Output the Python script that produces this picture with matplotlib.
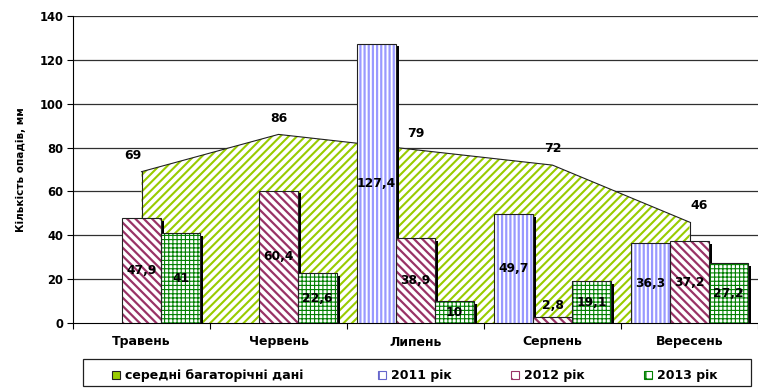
import numpy as np
import matplotlib
matplotlib.use("Agg")
import matplotlib.pyplot as plt
from matplotlib.patches import Rectangle

plt.rcParams['font.family'] = ['DejaVu Sans']
plt.rcParams['font.weight'] = 'bold'

months = ["Травень", "Червень", "Липень", "Серпень", "Вересень"]
avg = [69, 86, 79, 72, 46]
y2011 = [np.nan, np.nan, 127.4, 49.7, 36.3]
y2012 = [47.9, 60.4, 38.9, 2.8, 37.2]
y2013 = [41, 22.6, 10, 19.1, 27.2]
series_names = ["середні багаторічні дані", "2011 рік", "2012 рік", "2013 рік"]
yticks = [0, 20, 40, 60, 80, 100, 120, 140]

W, H = 758, 389
fig = plt.figure(figsize=(W/100, H/100), dpi=100)
ax = fig.add_axes([73/W, 1-323/H, 1-73/W, (323-16)/H])
ax.set_xlim(-0.5, 4.5)
ax.set_ylim(0, 140)

x = np.arange(len(months))

# gridlines
for t in yticks[1:]:
    ax.axhline(t, color='#303030', lw=0.9, zorder=0)

# area
with plt.rc_context({'hatch.linewidth': 1.5}):
    ax.fill_between(x, avg, 0, facecolor='white', edgecolor='#99CC00', hatch='////',
                    linewidth=0, zorder=1)
ax.plot(x, avg, color='#202020', lw=0.8, zorder=2)
ax.plot([0, 0], [0, avg[0]], color='#202020', lw=0.8, zorder=2)
ax.plot([4, 4], [0, avg[-1]], color='#202020', lw=0.8, zorder=2)
for xi, v in zip(x, avg):
    dx = 0.07 if xi == 4 else (-0.06 if xi == 0 else 0)
    ax.text(xi + dx, v + 4.5, str(v), ha='center', va='bottom', fontsize=9, fontweight='bold', zorder=6)

w = 0.285
styles = [
    (y2011, -w, '#9999FF', '||||', 1.6),
    (y2012, 0.0, '#993366', '\\\\\\\\', 1.6),
    (y2013, w, '#008000', '++++', 0.8),
]
shx = 3/137
shy = 1.3
for vals, off, col, hatch, hlw in styles:
    for xi, v in zip(x, vals):
        if np.isnan(v):
            continue
        xc = xi + off
        # shadow
        ax.add_patch(Rectangle((xc - w/2 + shx, 0), w, max(v - shy, 0), facecolor='black',
                               edgecolor='none', zorder=3))
        with plt.rc_context({'hatch.linewidth': hlw}):
            ax.add_patch(Rectangle((xc - w/2, 0), w, v, facecolor='white', edgecolor=col,
                                   hatch=hatch, linewidth=0, zorder=4))
        ax.add_patch(Rectangle((xc - w/2, 0), w, v, fill=False, edgecolor='#202020',
                               linewidth=0.8, zorder=5))
        lbl = f"{v:g}".replace('.', ',')
        ypos = v/2 if v > 6 else v + 5
        ax.text(xc, ypos, lbl, ha='center', va='center', fontsize=8.8, fontweight='bold', zorder=6)

for s in ['top', 'right']:
    ax.spines[s].set_visible(False)
ax.spines['left'].set_color('black')
ax.spines['bottom'].set_color('black')
ax.set_yticks(yticks)
ax.set_yticklabels([str(t) for t in yticks], fontsize=8.3, fontweight='bold')
ax.set_xticks(np.arange(-0.5, 4.6, 1.0), minor=False)
ax.set_xticklabels([])
ax.set_xticks(x, minor=True)
ax.set_xticklabels(months, minor=True, fontsize=9, fontweight='bold')
ax.tick_params(axis='x', which='minor', length=0, pad=9)
ax.tick_params(axis='x', which='major', length=4, direction='out')
ax.tick_params(axis='y', length=4, direction='out', pad=3)
ax.set_ylabel("Кількість опадів, мм", fontsize=7.5, fontweight='bold', labelpad=10)

# legend (manual)
fig.patches.append(Rectangle((83/W, 1-386/H), (751-83)/W, (386-359)/H, transform=fig.transFigure,
                             fill=False, edgecolor='#202020', linewidth=0.9))
leg_icon_x = [112, 378, 511, 644]
leg_text_x = [125, 391, 524, 657]
leg_y = 375
icon_styles = [
    dict(facecolor='#99CC00', edgecolor='#202020', hatch=None),
    dict(facecolor='white', edgecolor='#6666CC', hatch='||'),
    dict(facecolor='white', edgecolor='#993366', hatch='\\\\'),
    dict(facecolor='white', edgecolor='#008000', hatch='++'),
]
for ix, tx, name, st in zip(leg_icon_x, leg_text_x, series_names, icon_styles):
    r = Rectangle((ix/W, 1-(leg_y+4)/H), 8/W, 8/H, transform=fig.transFigure,
                  facecolor=st['facecolor'], edgecolor=st['edgecolor'], hatch=st['hatch'],
                  linewidth=0.8)
    fig.patches.append(r)
    fig.text(tx/W, 1-leg_y/H, name, ha='left', va='center', fontsize=9, fontweight='bold')

fig.savefig("out.png", dpi=100)
